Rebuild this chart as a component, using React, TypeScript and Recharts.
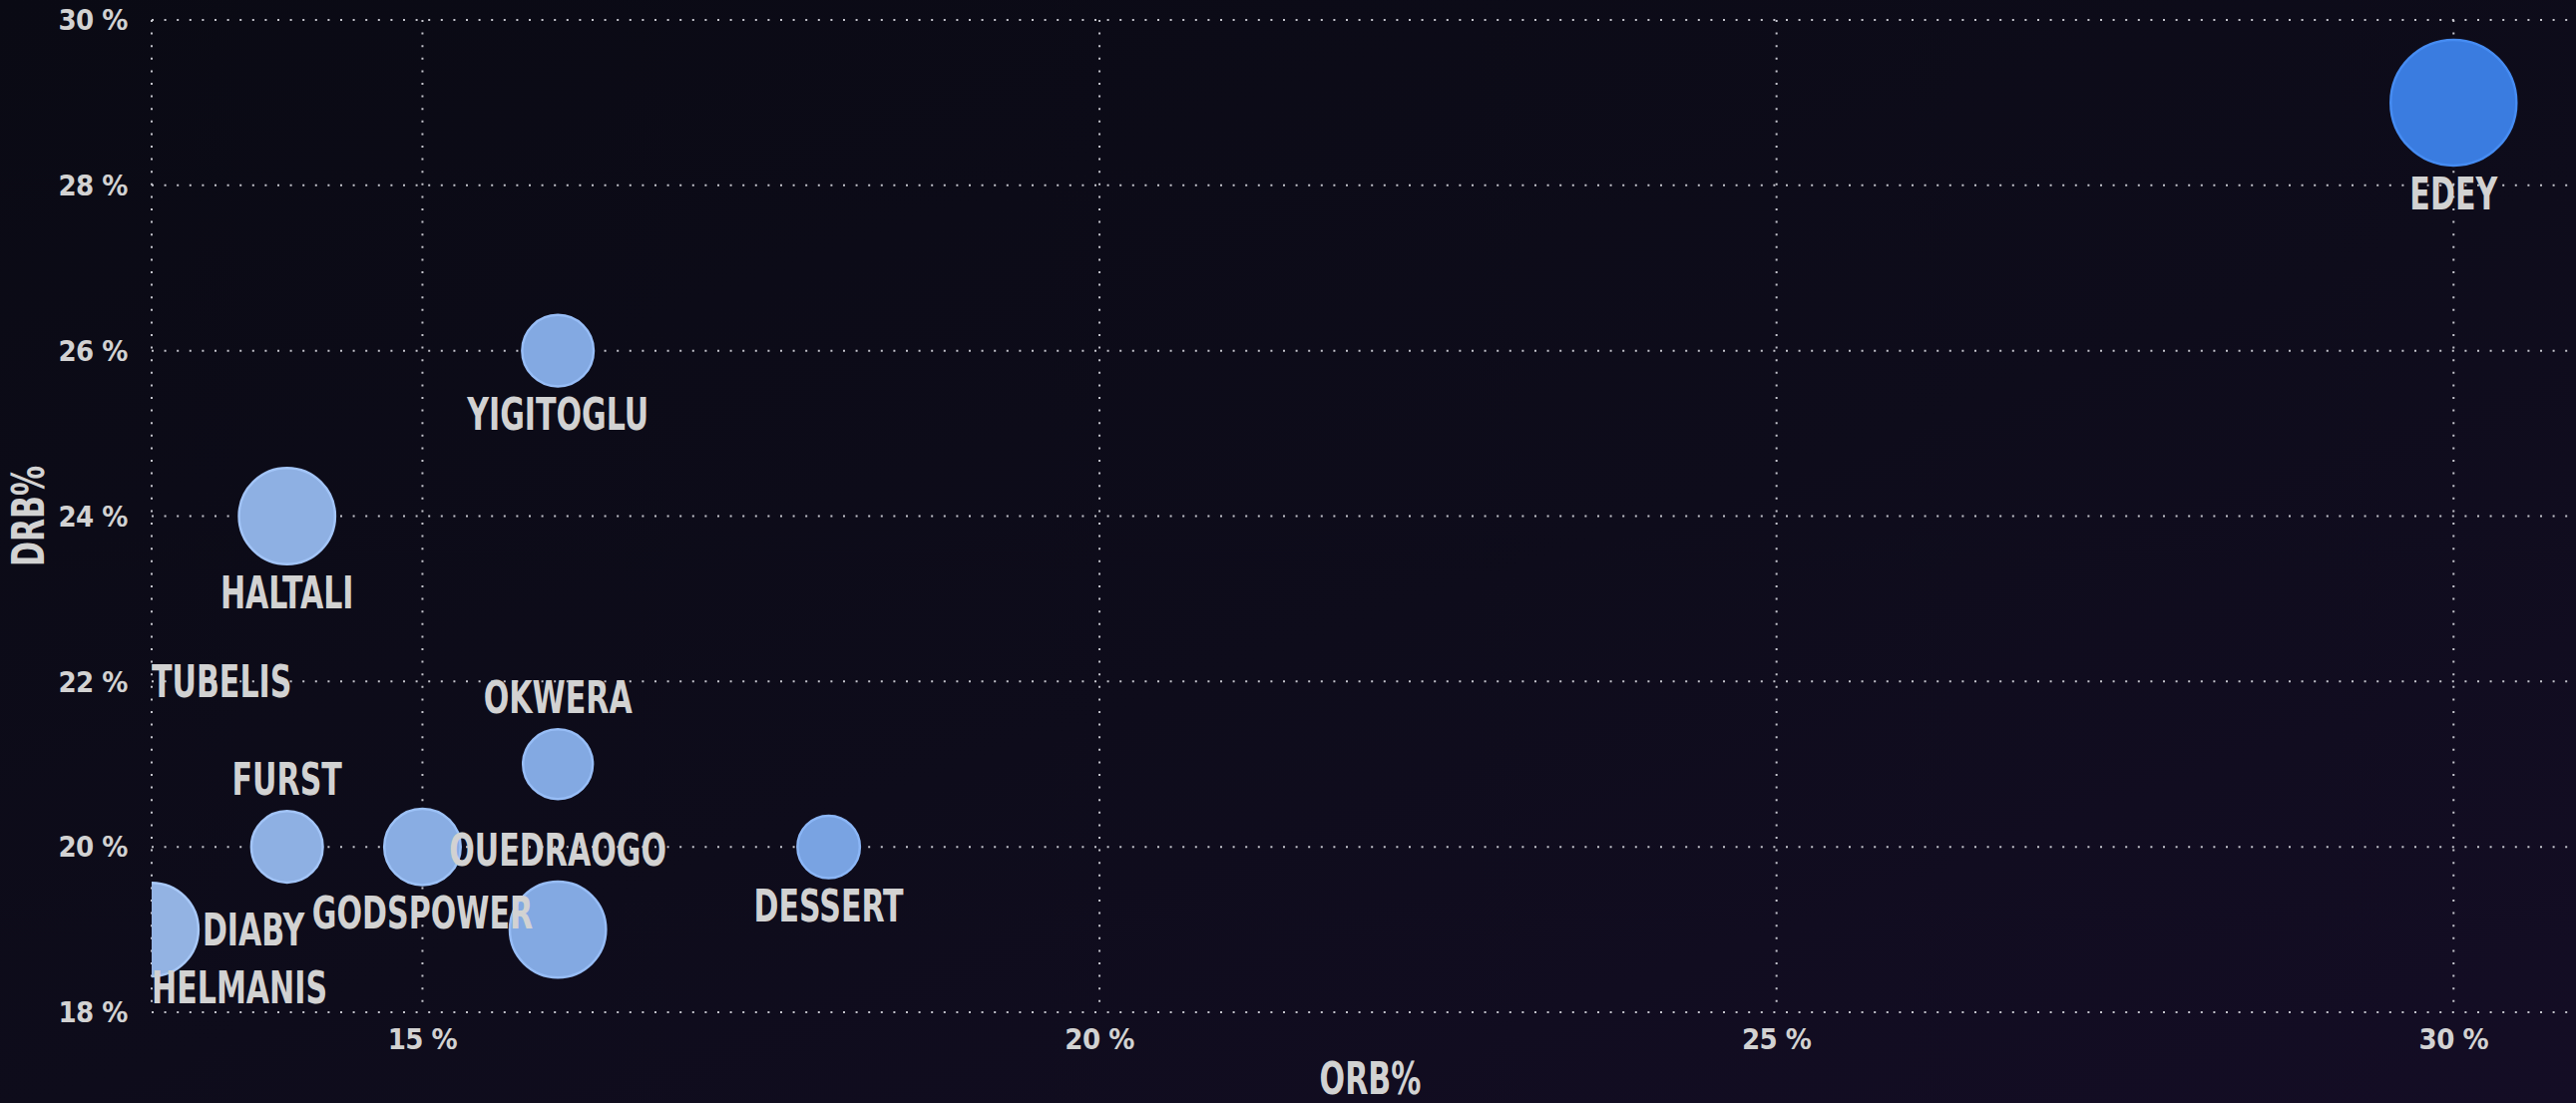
import { ScatterChart, Scatter, XAxis, YAxis, ZAxis, CartesianGrid } from 'recharts'

const players = ['EDEY', 'YIGITOGLU', 'HALTALI', 'TUBELIS', 'OKWERA', 'FURST', 'GODSPOWER', 'OUEDRAOGO', 'DESSERT', 'DIABY', 'HELMANIS']
const orbPct = [30, 16, 14, 12, 16, 14, 15, 16, 18, 13, 12]
const drbPct = [29, 26, 24, 22, 21, 20, 20, 19, 20, 19, 18.3]
const sizeValue = [6.5, 2.1, 3.8, 2.0, 2.0, 2.1, 2.4, 3.8, 1.6, 3.6, 2.0]
const labelSide = ['below', 'below', 'below', 'edge', 'above', 'above', 'below', 'above', 'below', 'right', 'edge']

const xTicks = [15, 20, 25, 30]
const yTicks = [18, 20, 22, 24, 26, 28, 30]

const FONT = "'DejaVu Sans Condensed', 'Liberation Sans Narrow', 'Roboto', sans-serif"
const TEXT = '#d2d2d2'
const Y_AXIS_W = 152
const PLOT_LEFT = Y_AXIS_W
const LABEL_SIZE = 44
const CAP_HALF = 16
const SQUEEZE = 0.76

const data = players.map((name, i) => ({
  name,
  x: orbPct[i],
  y: drbPct[i],
  z: sizeValue[i],
  side: labelSide[i],
}))

function lerpColor(a: string, b: string, t: number) {
  const pa = [1, 3, 5].map((k) => parseInt(a.slice(k, k + 2), 16))
  const pb = [1, 3, 5].map((k) => parseInt(b.slice(k, k + 2), 16))
  const c = pa.map((v, i) => Math.round(v + (pb[i] - v) * t))
  return `rgb(${c[0]},${c[1]},${c[2]})`
}

function colorFor(x: number) {
  const t = Math.min(1, Math.max(0, (x - 13) / 17))
  return { fill: lerpColor('#93b3e3', '#3a7ce0', t), stroke: lerpColor('#a8c8f7', '#468cf2', t) }
}

// condensed bold text, squeezed horizontally to get the tall narrow look
function NarrowText({ x, y, anchor, children, rotate }: any) {
  const tf = `translate(${x}, ${y})${rotate ? ` rotate(${rotate})` : ''} scale(${SQUEEZE}, 1)`
  return (
    <text
      transform={tf}
      textAnchor={anchor}
      fill={TEXT}
      fontFamily={FONT}
      fontWeight="bold"
      fontSize={LABEL_SIZE}
    >
      {children}
    </text>
  )
}

function Bubble(props: any) {
  const { cx, cy, width, payload } = props
  const r = width / 2
  const c = colorFor(payload.x)
  return <circle cx={cx} cy={cy} r={r} fill={c.fill} stroke={c.stroke} strokeWidth={2.5} />
}

function PointLabel(props: any) {
  const { cx, cy, width, payload } = props
  const r = width / 2
  let x = cx
  let y = cy + CAP_HALF
  let anchor = 'middle'
  if (payload.side === 'below') y = cy + r + 28 + CAP_HALF
  else if (payload.side === 'above') y = cy - r - 32 + CAP_HALF
  else if (payload.side === 'right') {
    x = cx + r + 4
    anchor = 'start'
  } else if (payload.side === 'edge') {
    x = PLOT_LEFT
    anchor = 'start'
  }
  return (
    <NarrowText x={x} y={y} anchor={anchor}>
      {payload.name}
    </NarrowText>
  )
}

const tickStyle = { fill: TEXT, fontSize: 29, fontWeight: 'bold', fontFamily: FONT, letterSpacing: -0.5 }

export default function App() {
  return (
    <div
      style={{
        width: 2582,
        height: 1106,
        overflow: 'hidden',
        background: 'linear-gradient(160deg, #0a0a14 0%, #0e0c1b 55%, #140d25 100%)',
      }}
    >
      <style>{'body{margin:0}'}</style>
      <ScatterChart width={2595} height={1106} margin={{ top: 20, right: 0, bottom: 0, left: 0 }}>
        <CartesianGrid stroke="#c4c4cc" strokeWidth={2} strokeDasharray="2 10.6" />
        <XAxis
          type="number"
          dataKey="x"
          domain={[13, 31]}
          ticks={xTicks}
          allowDataOverflow
          axisLine={false}
          tickLine={false}
          tickSize={0}
          tickMargin={16}
          height={91}
          tick={tickStyle}
          tickFormatter={(v: number) => `${v} %`}
          label={{
            content: ({ viewBox }: any) => (
              <NarrowText x={viewBox.x + viewBox.width / 2} y={viewBox.y + 82} anchor="middle">
                ORB%
              </NarrowText>
            ),
          }}
        />
        <YAxis
          type="number"
          dataKey="y"
          domain={[18, 30]}
          ticks={yTicks}
          allowDataOverflow
          axisLine={false}
          tickLine={false}
          tickSize={0}
          tickMargin={24}
          width={Y_AXIS_W}
          tick={tickStyle}
          tickFormatter={(v: number) => `${v} %`}
          label={{
            content: ({ viewBox }: any) => (
              <NarrowText x={viewBox.x + 44} y={viewBox.y + viewBox.height / 2} anchor="middle" rotate={-90}>
                DRB%
              </NarrowText>
            ),
          }}
        />
        <ZAxis type="number" dataKey="z" domain={[0, 6.5]} range={[0, Math.PI * 63 * 63]} />
        <Scatter data={data} shape={<Bubble />} isAnimationActive={false} />
        <Scatter data={data} shape={<PointLabel />} isAnimationActive={false} />
      </ScatterChart>
    </div>
  )
}
